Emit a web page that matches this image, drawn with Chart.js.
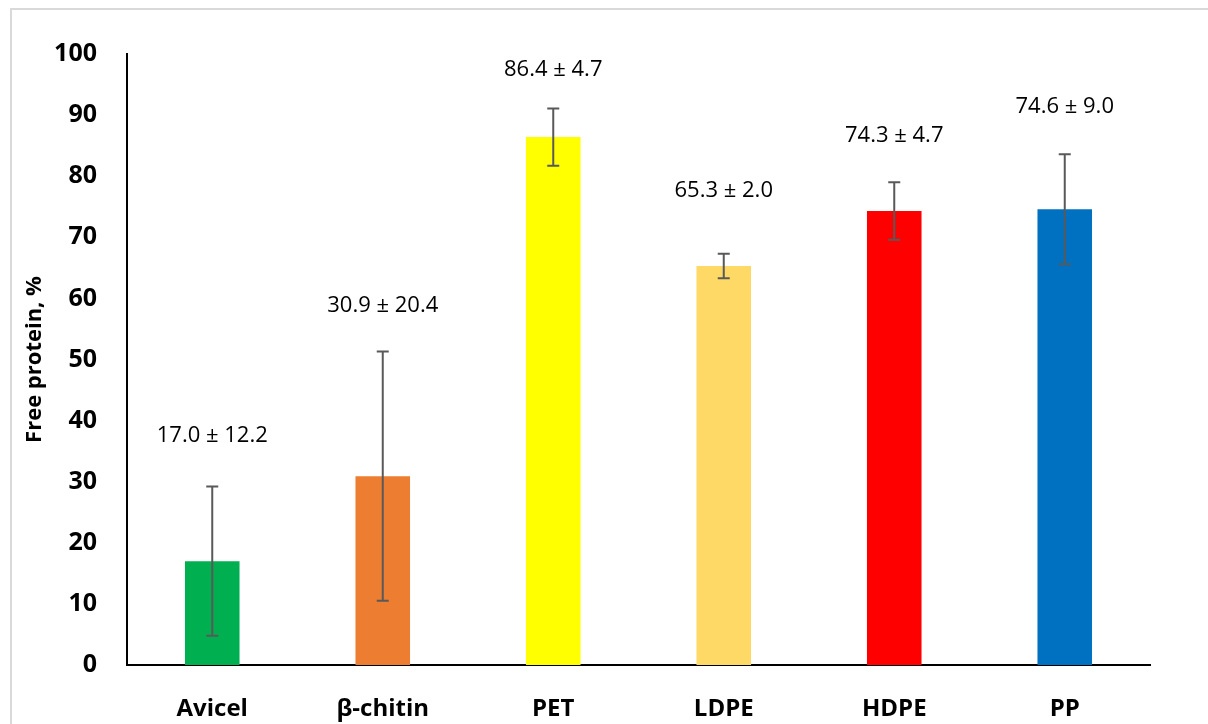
<!DOCTYPE html>
<html>
<head>
<meta charset="utf-8">
<script src="https://cdn.jsdelivr.net/npm/chart.js@4.4.1/dist/chart.umd.min.js"></script>
<style>
  html, body { margin: 0; padding: 0; background: #fff; }
  #wrap { position: relative; width: 1208px; height: 724px; overflow: hidden; }
  #frame { position: absolute; left: 10px; top: 8px; width: 1300px; height: 800px; border: 2px solid #d9d9d9; box-sizing: border-box; }
  canvas { position: absolute; left: 0; top: 0; }
</style>
</head>
<body>
<div id="wrap">
  <div id="frame"></div>
  <canvas id="chart" width="1208" height="724"></canvas>
</div>
<script>
'use strict';

// ── Data ─────────────────────────────────────────────
const categories = ['Avicel', 'β-chitin', 'PET', 'LDPE', 'HDPE', 'PP'];
const meanValues = [17.0, 30.9, 86.4, 65.3, 74.3, 74.6];
const errValues  = [12.2, 20.4, 4.7, 2.0, 4.7, 9.0];
const labelLevel = [37.5, 58.8, 97.4, 77.6, 86.6, 91.3];   // where the data labels sit, in y units
const barColors  = ['#00B050', '#ED7D31', '#FFFF00', '#FFD966', '#FF0000', '#0070C0'];
const yTicks     = [0, 10, 20, 30, 40, 50, 60, 70, 80, 90, 100];

const FONT = '"Open Sans", "Liberation Sans", sans-serif';

// ── Error bars + labels plugin ───────────────────────
const errorBars = {
  id: 'errorBars',
  afterDatasetsDraw(chart) {
    const { ctx, scales: { x, y } } = chart;
    ctx.save();
    ctx.strokeStyle = '#595959';
    ctx.lineWidth = 2;
    meanValues.forEach((v, i) => {
      const cx  = x.getPixelForValue(i);
      const top = y.getPixelForValue(v + errValues[i]);
      const bot = y.getPixelForValue(v - errValues[i]);
      ctx.beginPath();
      ctx.moveTo(cx, top); ctx.lineTo(cx, bot);
      ctx.moveTo(cx - 6, top); ctx.lineTo(cx + 6, top);
      ctx.moveTo(cx - 6, bot); ctx.lineTo(cx + 6, bot);
      ctx.stroke();
    });
    ctx.fillStyle = '#000';
    ctx.font = '22px ' + FONT;
    ctx.textAlign = 'center';
    ctx.textBaseline = 'middle';
    meanValues.forEach((v, i) => {
      const txt = v.toFixed(1) + ' ± ' + errValues[i].toFixed(1);
      ctx.fillText(txt, x.getPixelForValue(i), y.getPixelForValue(labelLevel[i]));
    });
    ctx.restore();
  }
};

new Chart(document.getElementById('chart'), {
  type: 'bar',
  data: {
    labels: categories,
    datasets: [{
      data: meanValues,
      backgroundColor: barColors,
      borderWidth: 0,
      categoryPercentage: 1,
      barPercentage: 0.32
    }]
  },
  options: {
    responsive: false,
    animation: false,
    layout: { padding: { left: 0, top: 54, right: 58, bottom: 0 } },
    plugins: { legend: { display: false }, tooltip: { enabled: false } },
    scales: {
      x: {
        grid: { display: false, drawTicks: false },
        border: { color: '#000', width: 2 },
        ticks: { color: '#000', padding: 30, font: { family: FONT, size: 24, weight: 'bold' } },
        afterFit: s => { s.height = 59; }
      },
      y: {
        min: 0, max: 100,
        afterBuildTicks: s => { s.ticks = yTicks.map(v => ({ value: v })); },
        grid: { display: false, drawTicks: false },
        border: { color: '#000', width: 2 },
        ticks: { color: '#000', padding: 30, font: { family: FONT, size: 25, weight: 'bold' } },
        title: { display: true, text: 'Free protein, %', color: '#000', padding: { top: 22 }, font: { family: FONT, size: 22, weight: 'bold' } },
        afterFit: s => { s.width = 127; }
      }
    }
  },
  plugins: [errorBars]
});
</script>
</body>
</html>
